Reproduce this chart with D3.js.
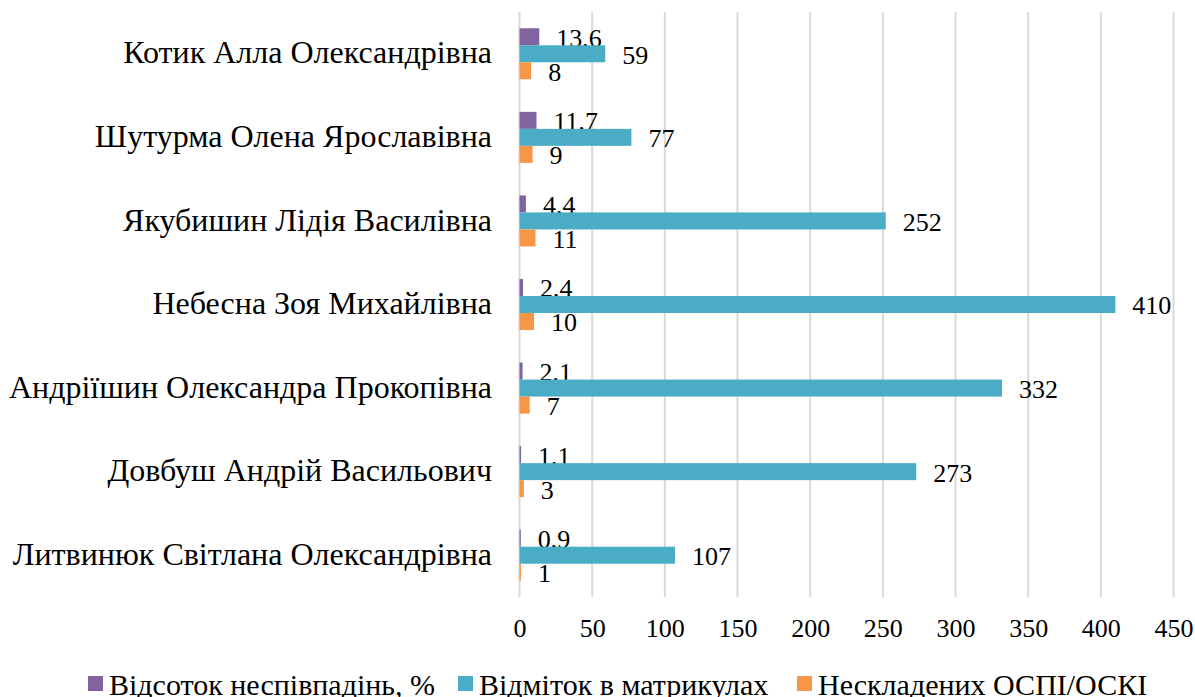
<!DOCTYPE html>
<html>
<head>
<meta charset="UTF-8">
<title>Bar chart</title>
<style>
  body { margin: 0; background: #fff; }
  .grid-line { stroke: #d9d9d9; stroke-width: 2; }
</style>
</head>
<body>
<div class="drawing"></div>
<script src="https://d3js.org/d3.v7.min.js"></script>
<script>
var w = 1195, h = 697;
var FONT = "'Liberation Serif', 'Times New Roman', serif";

// data (bottom to top, as in the source table)
var names = ["Литвинюк Світлана Олександрівна", "Довбуш Андрій Васильович",
             "Андріїшин Олександра Прокопівна", "Небесна Зоя Михайлівна",
             "Якубишин Лідія Василівна", "Шутурма Олена Ярославівна",
             "Котик Алла Олександрівна"];
var percentMismatch = [0.9, 1.1, 2.1, 2.4, 4.4, 11.7, 13.6];
var marksInBooks = [107, 273, 332, 410, 252, 77, 59];
var failedExams = [1, 3, 7, 10, 11, 9, 8];
var seriesNames = ["Відсоток неспівпадінь, %", "Відміток в матрикулах", "Нескладених ОСПІ/ОСКІ"];
var colors = ["#8064a2", "#4bacc6", "#f79646"];
var xTicks = [0, 50, 100, 150, 200, 250, 300, 350, 400, 450];

var series = [percentMismatch, marksInBooks, failedExams];

var svg = d3.select("div.drawing").append("svg")
  .attr("width", w).attr("height", h)
  .style("font-family", FONT);

var x = d3.scaleLinear().domain([0, 450]).range([519.5, 1173.5]);
var y = d3.scaleBand().domain(names.slice().reverse()).range([12, 597]);
var inner = d3.scaleBand().domain([0, 1, 2])
  .range([(y.bandwidth() - 51) / 2, (y.bandwidth() + 51) / 2]);

/* grid lines */
svg.append("g").selectAll("line").data(xTicks).enter().append("line")
  .attr("class", "grid-line")
  .attr("x1", function(d){ return x(d); }).attr("x2", function(d){ return x(d); })
  .attr("y1", 12).attr("y2", 597);

/* x axis labels */
var xAxis = d3.axisBottom(x).tickValues(xTicks).tickSize(0).tickPadding(0);
var gx = svg.append("g").attr("transform", "translate(0,637)").call(xAxis)
  .attr("font-family", FONT).attr("font-size", 26);
gx.select(".domain").remove();
gx.selectAll("text").attr("y", 0).attr("dy", 0).attr("fill", "#000");

/* category labels */
var yAxis = d3.axisLeft(y).tickSize(0).tickPadding(0);
var gy = svg.append("g").attr("transform", "translate(492,0)").call(yAxis)
  .attr("font-family", FONT).attr("font-size", 32);
gy.select(".domain").remove();
gy.selectAll("text").attr("dy", "0.3em").attr("fill", "#000");

/* bars */
series.forEach(function(vals, s){
  var g = svg.append("g");
  g.selectAll("rect").data(vals).enter().append("rect")
    .attr("x", x(0))
    .attr("y", function(d, i){ return y(names[i]) + inner(s); })
    .attr("width", function(d){ return x(d) - x(0); })
    .attr("height", inner.bandwidth())
    .attr("fill", colors[s]);
  g.selectAll("text").data(vals).enter().append("text")
    .attr("x", function(d){ return x(d) + 17; })
    .attr("y", function(d, i){ return y(names[i]) + inner(s) + inner.bandwidth() / 2; })
    .attr("dy", "0.38em")
    .attr("font-size", 26)
    .attr("fill", "#000")
    .text(function(d){ return String(d).replace(".", ","); });
});

/* legend */
var legendX = [88, 458, 797];
var legend = svg.append("g").selectAll("g").data(seriesNames).enter().append("g")
  .attr("transform", function(d, i){ return "translate(" + legendX[i] + ",676)"; });
legend.append("rect").attr("width", 15).attr("height", 15)
  .attr("fill", function(d, i){ return colors[i]; });
legend.append("text").attr("x", 21).attr("y", 19)
  .attr("font-size", 30).attr("fill", "#000").text(function(d){ return d; });
</script>
</body>
</html>
